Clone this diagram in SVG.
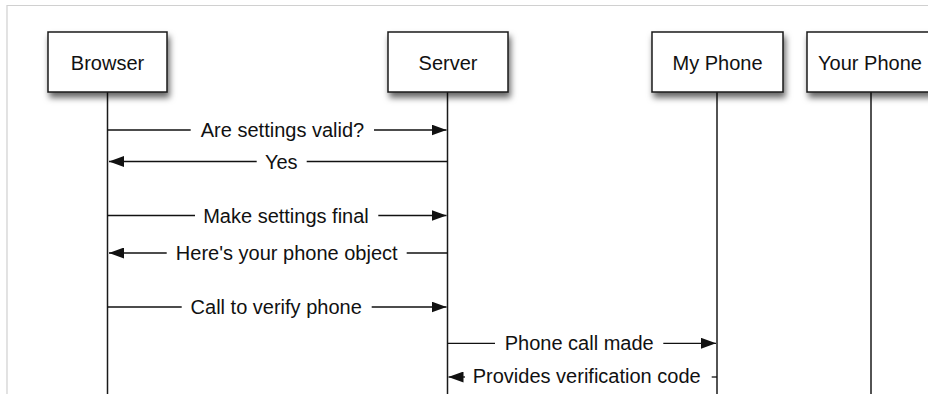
<svg xmlns="http://www.w3.org/2000/svg" width="928" height="394" viewBox="0 0 928 394">
<style>
.box{fill:#fff;stroke:#1a1a1a;stroke-width:1.5;filter:url(#sh)}
.life{stroke:#1a1a1a;stroke-width:1.5;fill:none}
.msg{stroke:#111;stroke-width:1.3;fill:none}
.arr{marker-end:url(#ah)}
text{font-family:"Liberation Sans",Arial,Helvetica,sans-serif;font-size:20px;fill:#111;text-anchor:middle}
</style>
<defs>
<filter id="sh" x="-20%" y="-20%" width="150%" height="160%">
<feDropShadow dx="2" dy="5" stdDeviation="3" flood-color="#000" flood-opacity="0.6"/>
</filter>
<marker id="ah" viewBox="0 0 15 11" refX="15" refY="5.5" markerWidth="15" markerHeight="11" markerUnits="userSpaceOnUse" orient="auto">
<path d="M0,0 L15,5.5 L0,11 z" fill="#111"/>
</marker>
</defs>
<rect width="928" height="394" fill="#fff"/>
<path d="M7,394 V5.5 H928" fill="none" stroke="#d0d0d0" stroke-width="1.2"/>
<g id="lifelines">
<line class="life" x1="107.5" y1="92" x2="107.5" y2="394"/>
<line class="life" x1="447.5" y1="92" x2="447.5" y2="394"/>
<line class="life" x1="717" y1="92" x2="717" y2="394"/>
<line class="life" x1="871" y1="92" x2="871" y2="394"/>
</g>
<g id="browser">
<rect class="box" x="48" y="32" width="119" height="60"/>
<text x="107.5" y="69.5">Browser</text>
</g>
<g id="server">
<rect class="box" x="388" y="32" width="120" height="60"/>
<text x="448" y="69.5">Server</text>
</g>
<g id="myphone">
<rect class="box" x="652" y="32" width="131" height="60"/>
<text x="717.5" y="69.5">My Phone</text>
</g>
<g id="yourphone">
<rect class="box" x="807" y="32" width="128" height="60"/>
<text x="870" y="69.5">Your Phone</text>
</g>
<g id="connectors">
<line class="msg" x1="107.5" y1="130" x2="190.7" y2="130"/>
<line class="msg arr" x1="374" y1="130" x2="446.5" y2="130"/>
<text x="282.5" y="137">Are settings valid?</text>

<line class="msg" x1="447.5" y1="161.5" x2="306.7" y2="161.5"/>
<line class="msg arr" x1="256.7" y1="161.5" x2="109" y2="161.5"/>
<text x="281.2" y="168.5">Yes</text>

<line class="msg" x1="107.5" y1="215.5" x2="195" y2="215.5"/>
<line class="msg arr" x1="378.3" y1="215.5" x2="446.5" y2="215.5"/>
<text x="286" y="222.5">Make settings final</text>

<line class="msg" x1="447.5" y1="253" x2="406.7" y2="253"/>
<line class="msg arr" x1="166.7" y1="253" x2="109" y2="253"/>
<text x="286.7" y="260">Here's your phone object</text>

<line class="msg" x1="107.5" y1="307" x2="181.7" y2="307"/>
<line class="msg arr" x1="371.7" y1="307" x2="446.5" y2="307"/>
<text x="276.2" y="314">Call to verify phone</text>

<line class="msg" x1="447.5" y1="343.3" x2="495" y2="343.3"/>
<line class="msg arr" x1="663.3" y1="343.3" x2="716" y2="343.3"/>
<text x="579.2" y="350.3">Phone call made</text>

<line class="msg" x1="717" y1="377" x2="711.7" y2="377"/>
<line class="msg arr" x1="465" y1="377" x2="448.5" y2="377"/>
<text x="586.7" y="383">Provides verification code</text>
</g>
</svg>
